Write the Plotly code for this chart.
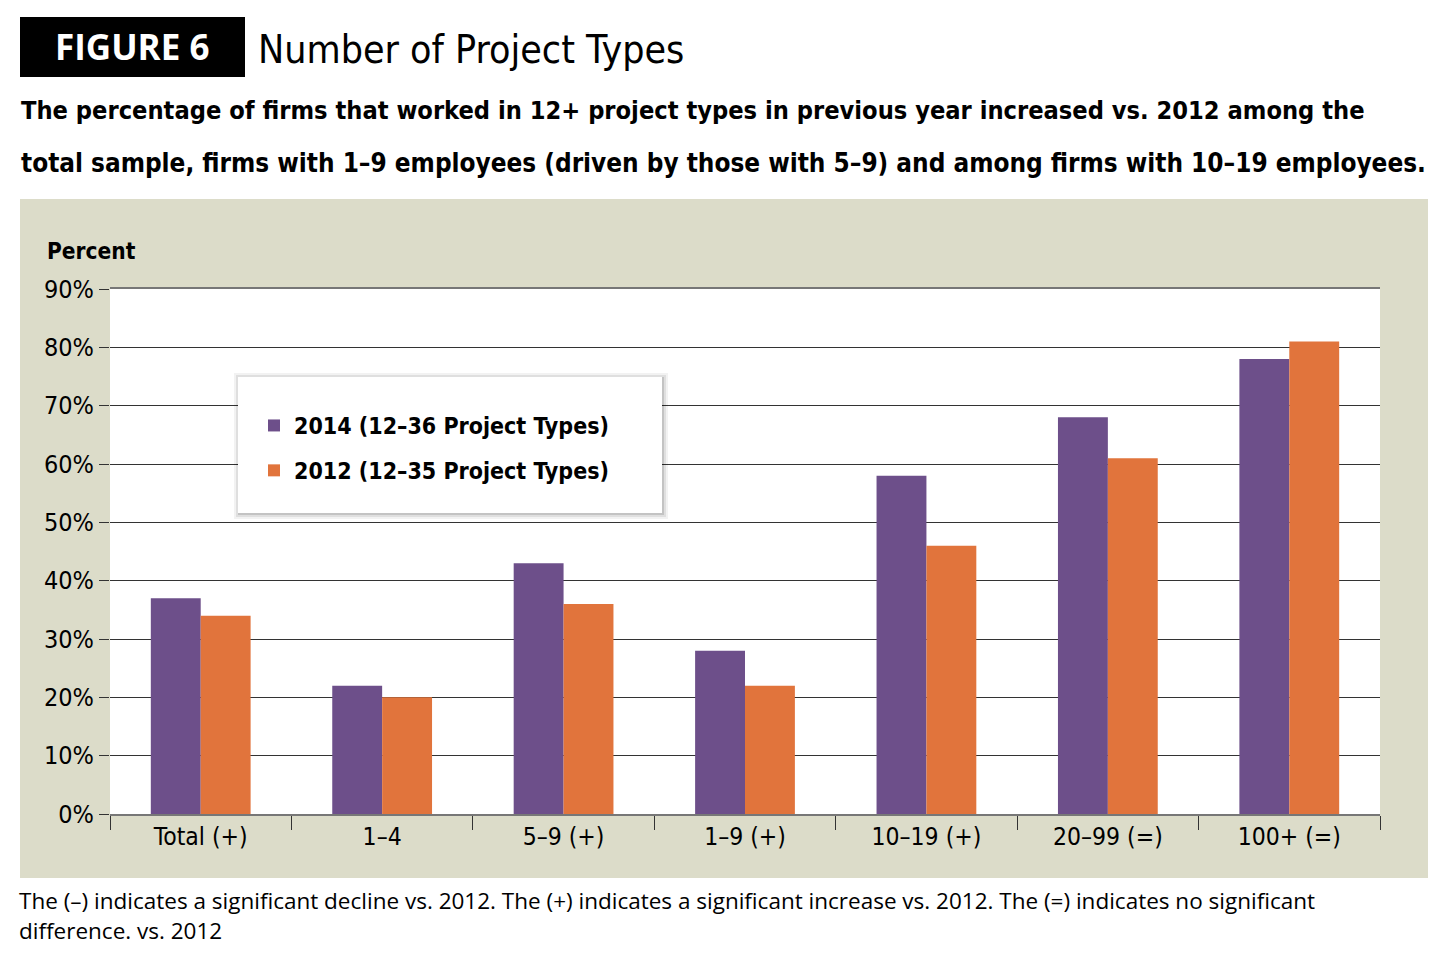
import plotly.graph_objects as go

# data
groups = ['Total (+)', '1–4', '5–9 (+)', '1–9 (+)', '10–19 (+)', '20–99 (=)', '100+ (=)']
pct_2014 = [37, 22, 43, 28, 58, 68, 78]
pct_2012 = [34, 20, 36, 22, 46, 61, 81]
y_ticks = [0, 10, 20, 30, 40, 50, 60, 70, 80, 90]
y_ticklabels = [f'{v}%' for v in y_ticks]

PURPLE = '#6d4f8a'
ORANGE = '#e1743c'
BEIGE = '#dcdcc9'
NARROW = 'Liberation Sans Narrow, DejaVu Sans Condensed, Arial Narrow, sans-serif'
SANS = 'Open Sans, Noto Sans, sans-serif'

# page has an 8px body margin, so the figure is drawn 8px in from the corner
OFF = 8
W, H = 1453 - OFF, 969 - OFF
L, R, T, B = 110 - OFF, 1380 - OFF, 289 - OFF, 814 - OFF   # plot area (figure px)

# helpers: reference-picture pixel -> paper coordinate
def px(x):
    return (x - OFF - L) / (R - L)

def py(y):
    return (B - (y - OFF)) / (B - T)

fig = go.Figure()
fig.add_trace(go.Bar(x=groups, y=pct_2014, name='<b>2014 (12–36 Project Types)</b>',
                     legendgroup='a', marker=dict(color=PURPLE, line=dict(width=0))))
fig.add_trace(go.Bar(x=groups, y=pct_2012, name='<b>2012 (12–35 Project Types)</b>',
                     legendgroup='b', marker=dict(color=ORANGE, line=dict(width=0))))

# beige panel, then white plotting area on top of it
fig.add_shape(type='rect', xref='paper', yref='paper', layer='below',
              x0=px(20), x1=px(1428), y0=py(878), y1=py(199),
              fillcolor=BEIGE, line=dict(width=0))
fig.add_shape(type='rect', xref='x domain', yref='y domain', layer='below',
              x0=0, x1=1, y0=0, y1=1, fillcolor='white', line=dict(width=0))

# legend box with a soft shadow
for grow, col in [(5, 'rgba(0,0,0,0.05)'), (3, 'rgba(0,0,0,0.08)'), (1, 'rgba(0,0,0,0.12)')]:
    fig.add_shape(type='rect', xref='paper', yref='paper', layer='above',
                  x0=px(238 - grow + 1), x1=px(662 + grow + 1),
                  y0=py(513 + grow + 1), y1=py(377 - grow + 1),
                  fillcolor=col, line=dict(width=0))
fig.add_shape(type='rect', xref='paper', yref='paper', layer='above',
              x0=px(238), x1=px(662), y0=py(513), y1=py(377),
              fillcolor='white', line=dict(width=0))

# header
fig.add_shape(type='rect', xref='paper', yref='paper',
              x0=px(20), x1=px(245), y0=py(77), y1=py(17),
              fillcolor='black', line=dict(width=0))
fig.add_annotation(text='<b>FIGURE 6</b>', xref='paper', yref='paper',
                   x=px(132), y=py(47), xanchor='center', yanchor='middle',
                   showarrow=False, font=dict(family=SANS, size=35, color='white'))
fig.add_annotation(text='Number of Project Types', xref='paper', yref='paper',
                   x=px(256), y=py(49), xanchor='left', yanchor='middle',
                   showarrow=False, font=dict(family=NARROW, size=39, color='black'))
fig.add_annotation(text='<b>The percentage of firms that worked in 12+ project types in previous year increased vs. 2012 among the</b>',
                   xref='paper', yref='paper', x=px(19), y=py(110),
                   xanchor='left', yanchor='middle', showarrow=False,
                   font=dict(family=NARROW, size=25.2, color='black'))
fig.add_annotation(text='<b>total sample, firms with 1–9 employees (driven by those with 5–9) and among firms with 10–19 employees.</b>',
                   xref='paper', yref='paper', x=px(19), y=py(163),
                   xanchor='left', yanchor='middle', showarrow=False,
                   font=dict(family=NARROW, size=25.9, color='black'))

# y axis caption
fig.add_annotation(text='<b>Percent</b>', xref='paper', yref='paper',
                   x=px(45), y=py(251), xanchor='left', yanchor='middle',
                   showarrow=False, font=dict(family=NARROW, size=22.5, color='black'))

# footnote, two lines
fig.add_annotation(text='The (–) indicates a significant decline vs. 2012. The (+) indicates a significant increase vs. 2012. The (=) indicates no significant',
                   xref='paper', yref='paper', x=px(17), y=py(900),
                   xanchor='left', yanchor='middle', showarrow=False,
                   font=dict(family=SANS, size=22.5, color='black'))
fig.add_annotation(text='difference. vs. 2012',
                   xref='paper', yref='paper', x=px(17), y=py(930),
                   xanchor='left', yanchor='middle', showarrow=False,
                   font=dict(family=SANS, size=22.5, color='black'))

fig.update_layout(
    width=W, height=H,
    margin=dict(l=L, r=W - R, t=T, b=H - B, pad=0),
    paper_bgcolor='white',
    plot_bgcolor='white',
    barmode='group',
    bargap=0.45,
    bargroupgap=0,
    showlegend=True,
    legend=dict(x=px(254), y=py(404), xanchor='left', yanchor='top',
                bgcolor='rgba(0,0,0,0)', borderwidth=0,
                font=dict(family=NARROW, size=23, color='black'),
                traceorder='grouped', tracegroupgap=12),
    font=dict(family=NARROW, color='black'),
)
fig.update_xaxes(
    tickson='boundaries', ticks='outside', ticklen=14, tickcolor='#333',
    tickwidth=1, showline=True, linecolor='#777', linewidth=2, mirror=True,
    showgrid=False, tickfont=dict(family=NARROW, size=24.5, color='black'),
    fixedrange=True,
)
fig.update_yaxes(
    range=[0, 90], tickvals=y_ticks, ticktext=y_ticklabels,
    ticks='outside', ticklen=10, tickcolor='#333', tickwidth=1,
    showgrid=True, gridcolor='#333', gridwidth=1,
    zeroline=False, showline=False,
    tickfont=dict(family=NARROW, size=25, color='black'),
    fixedrange=True,
)

fig.write_html('out.html')
